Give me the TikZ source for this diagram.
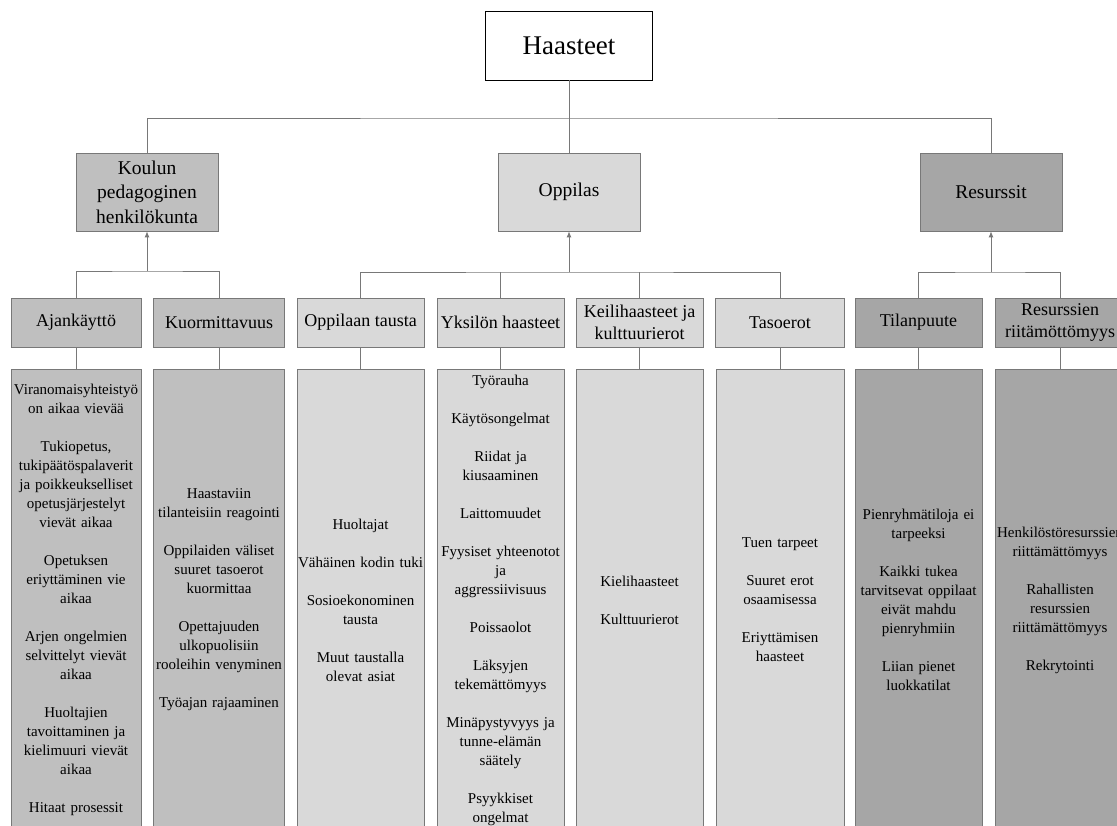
\documentclass[tikz,border=0pt]{standalone}
\usepackage{fontspec}
\setmainfont{Liberation Serif}
\usetikzlibrary{arrows.meta}
\definecolor{fillA}{RGB}{191,191,191}
\definecolor{fillB}{RGB}{217,217,217}
\definecolor{fillC}{RGB}{166,166,166}
\definecolor{edgeG}{RGB}{120,120,120}
\begin{document}
\begin{tikzpicture}[x=1pt,y=-1pt,
  box/.style={draw=edgeG, line width=0.8pt, inner xsep=0pt, inner ysep=2pt, align=center},
  lvltwo/.style={box, minimum width=142pt, minimum height=78pt, font=\fontsize{19.5}{24.5}\selectfont},
  lvlthree/.style={box, minimum height=49pt, font=\fontsize{18}{22}\selectfont},
  column/.style={box, minimum height=462pt, font=\fontsize{15}{19}\selectfont},
  conn/.style={draw=edgeG, line width=0.8pt},
  up/.style={conn, -{Latex[length=6pt,width=5pt]}},
]
\useasboundingbox (0,0) rectangle (1117,826);
\clip (0,0) rectangle (1117,826);

% top
\node[draw=black, line width=0.8pt, fill=white, minimum width=167pt, minimum height=69pt,
      font=\fontsize{27}{32}\selectfont] (haasteet) at (569,45.5) {Haasteet};

% level 2
\node[lvltwo, fill=fillA] (koulun) at (147,192) {Koulun\\pedagoginen\\henkilökunta};
\node[lvltwo, fill=fillB] (oppilas) at (569,192) {Oppilas};
\node[lvltwo, fill=fillC] (resurssit) at (991,192) {Resurssit};

% level 3
\node[lvlthree, fill=fillA, minimum width=130pt] (ajan) at (76,322.5) {Ajankäyttö};
\node[lvlthree, fill=fillA, minimum width=131pt] (kuor) at (219,322.5) {Kuormittavuus};
\node[lvlthree, fill=fillB, minimum width=127pt] (taus) at (360.5,322.5) {Oppilaan tausta};
\node[lvlthree, fill=fillB, minimum width=127pt] (yks) at (500.5,322.5) {Yksilön haasteet};
\node[lvlthree, fill=fillB, minimum width=127pt] (keili) at (639.5,322.5) {Keilihaasteet ja\\kulttuurierot};
\node[lvlthree, fill=fillB, minimum width=129pt] (taso) at (780,322.5) {Tasoerot};
\node[lvlthree, fill=fillC, minimum width=127pt] (tila) at (918.5,322.5) {Tilanpuute};
\node[lvlthree, fill=fillC, minimum width=130pt] (resr) at (1060,322.5) {Resurssien\\riitämöttömyys};

% columns
\node[column, fill=fillA, text width=130pt] (c1) at (76,600) {Viranomaisyhteistyö\\on aikaa vievää\\[19pt]
Tukiopetus,\\tukipäätöspalaverit\\ja poikkeukselliset\\opetusjärjestelyt\\vievät aikaa\\[19pt]
Opetuksen\\eriyttäminen vie\\aikaa\\[19pt]
Arjen ongelmien\\selvittelyt vievät\\aikaa\\[19pt]
Huoltajien\\tavoittaminen ja\\kielimuuri vievät\\aikaa\\[19pt]
Hitaat prosessit};
\node[column, fill=fillA, text width=131pt] (c2) at (219,600) {Haastaviin\\tilanteisiin reagointi\\[19pt]
Oppilaiden väliset\\suuret tasoerot\\kuormittaa\\[19pt]
Opettajuuden\\ulkopuolisiin\\rooleihin venyminen\\[19pt]
Työajan rajaaminen};
\node[column, fill=fillB, text width=127pt] (c3) at (360.5,600) {Huoltajat\\[19pt]
Vähäinen kodin tuki\\[19pt]
Sosioekonominen\\tausta\\[19pt]
Muut taustalla\\olevat asiat};
\node[column, fill=fillB, text width=127pt] (c4) at (500.5,600) {Työrauha\\[19pt]
Käytösongelmat\\[19pt]
Riidat ja\\kiusaaminen\\[19pt]
Laittomuudet\\[19pt]
Fyysiset yhteenotot\\ja\\aggressiivisuus\\[19pt]
Poissaolot\\[19pt]
Läksyjen\\tekemättömyys\\[19pt]
Minäpystyvyys ja\\tunne-elämän\\säätely\\[19pt]
Psyykkiset\\ongelmat};
\node[column, fill=fillB, text width=127pt] (c5) at (639.5,600) {Kielihaasteet\\[19pt]
Kulttuurierot};
\node[column, fill=fillB, text width=128pt] (c6) at (780,600) {Tuen tarpeet\\[19pt]
Suuret erot\\osaamisessa\\[19pt]
Eriyttämisen\\haasteet};
\node[column, fill=fillC, text width=127pt] (c7) at (918.5,600) {Pienryhmätiloja ei\\tarpeeksi\\[19pt]
Kaikki tukea\\tarvitsevat oppilaat\\eivät mahdu\\pienryhmiin\\[19pt]
Liian pienet\\luokkatilat};
\node[column, fill=fillC, text width=130pt] (c8) at (1060,600) {Henkilöstöresurssien\\riittämättömyys\\[19pt]
Rahallisten\\resurssien\\riittämättömyys\\[19pt]
Rekrytointi};

% connectors top
\coordinate (busA) at (569,118);
\draw[conn] (haasteet.south) -- (oppilas.north);
\draw[conn] (koulun.north) |- (busA) -| (resurssit.north);

% connectors level 3
\coordinate (busB) at (147,271);
\draw[conn] (ajan.north) |- (busB) -| (kuor.north);
\draw[up] (busB) -- (koulun.south);

\coordinate (busC) at (569,272);
\draw[conn] (taus.north) |- (busC) -| (taso.north);
\draw[conn] (yks.north) -- (yks.north |- busC);
\draw[conn] (keili.north) -- (keili.north |- busC);
\draw[up] (busC) -- (oppilas.south);

\coordinate (busD) at (991,272);
\draw[conn] (tila.north) |- (busD) -| (resr.north);
\draw[up] (busD) -- (resurssit.south);

% connectors to columns
\draw[conn] (ajan.south) -- (c1.north);
\draw[conn] (kuor.south) -- (c2.north);
\draw[conn] (taus.south) -- (c3.north);
\draw[conn] (yks.south) -- (c4.north);
\draw[conn] (keili.south) -- (c5.north);
\draw[conn] (taso.south) -- (c6.north);
\draw[conn] (tila.south) -- (c7.north);
\draw[conn] (resr.south) -- (c8.north);
\end{tikzpicture}
\end{document}
